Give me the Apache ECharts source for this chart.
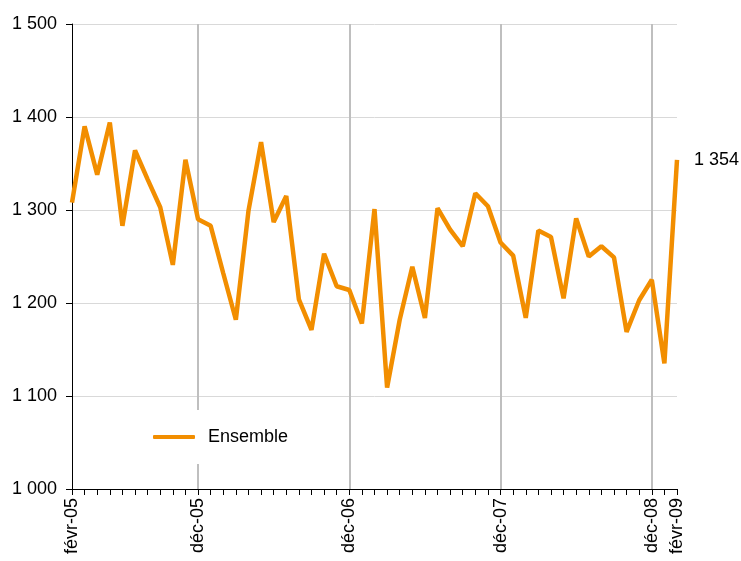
<!DOCTYPE html>
<html lang="fr">
<head>
  <meta charset="UTF-8">
  <title>Ensemble</title>
  <script src="https://cdn.jsdelivr.net/npm/echarts@6/dist/echarts.min.js"></script>
  <style>
    html, body { margin: 0; padding: 0; background: #fff; }
    #chart { width: 741px; height: 561px; }
  </style>
</head>
<body>
  <div id="chart"></div>
  <script>
    // mois de févr-05 à févr-09
    var monthNames = ['janv', 'févr', 'mars', 'avr', 'mai', 'juin', 'juil', 'août', 'sept', 'oct', 'nov', 'déc'];
    var years = ['05', '06', '07', '08', '09'];
    var categories = [];
    for (var y = 0; y < years.length; y++) {
      for (var m = 0; m < 12; m++) {
        if (y === 0 && m < 1) continue;
        if (y === 4 && m > 1) break;
        categories.push(monthNames[m] + '-' + years[y]);
      }
    }

    var ensemble = [
      1308, 1390, 1338, 1394, 1283, 1364, 1333, 1303, 1241, 1354,
      1290, 1283, 1232, 1182, 1299, 1373, 1287, 1315, 1204, 1171,
      1253, 1218, 1214, 1178, 1301, 1109, 1182, 1239, 1184, 1302,
      1279, 1261, 1318, 1304, 1265, 1251, 1184, 1278, 1271, 1205,
      1291, 1250, 1261, 1249, 1169, 1203, 1225, 1135, 1354
    ];

    // libellés affichés sur l'axe des x
    var tickLabels = ['févr-05', 'déc-05', 'déc-06', 'déc-07', 'déc-08', 'févr-09'];
    var gridLabels = ['déc-05', 'déc-06', 'déc-07', 'déc-08'];

    var FONT = '"Liberation Sans", Arial, sans-serif';

    function fmt(v) {
      return String(v).replace(/\B(?=(\d{3})+(?!\d))/g, ' ');
    }

    var chart = echarts.init(document.getElementById('chart'));
    chart.setOption({
      animation: false,
      textStyle: { fontFamily: FONT },
      grid: { left: 72, right: 64, top: 24, bottom: 72, containLabel: false, outerBoundsMode: 'none' },
      legend: {
        left: 143,
        top: 410,
        padding: [18, 12, 18, 10],
        backgroundColor: '#fff',
        icon: 'roundRect',
        itemWidth: 42,
        itemHeight: 4,
        data: ['Ensemble'],
        textStyle: { color: '#000', fontSize: 18, fontFamily: FONT, padding: [0, 0, 0, 8] }
      },
      xAxis: {
        type: 'category',
        data: categories,
        boundaryGap: false,
        axisLine: { lineStyle: { color: '#000', width: 1 } },
        axisTick: { interval: 0, length: 6, lineStyle: { color: '#000' } },
        axisLabel: {
          interval: function (i, v) { return tickLabels.indexOf(v) >= 0; },
          rotate: 90,
          margin: 9,
          color: '#000',
          fontSize: 18,
          fontFamily: FONT
        },
        splitLine: {
          show: true,
          interval: function (i, v) { return gridLabels.indexOf(v) >= 0; },
          lineStyle: { color: '#bfbfbf', width: 2 }
        }
      },
      yAxis: {
        type: 'value',
        min: 1000,
        max: 1500,
        interval: 100,
        axisLine: { show: true, lineStyle: { color: '#000', width: 1 } },
        axisTick: { show: true, length: 6, lineStyle: { color: '#000' } },
        axisLabel: {
          formatter: fmt,
          color: '#000',
          fontSize: 18,
          margin: 15,
          fontFamily: FONT
        },
        splitLine: { lineStyle: { color: '#d9d9d9', width: 1 } }
      },
      series: [{
        name: 'Ensemble',
        type: 'line',
        data: ensemble,
        symbol: 'none',
        color: '#f28e00',
        lineStyle: { width: 4.5, color: '#f28e00' },
        endLabel: {
          show: true,
          distance: 17,
          color: '#000',
          fontSize: 18,
          fontFamily: FONT,
          formatter: function (p) { return fmt(p.value); }
        }
      }]
    });
  </script>
</body>
</html>
